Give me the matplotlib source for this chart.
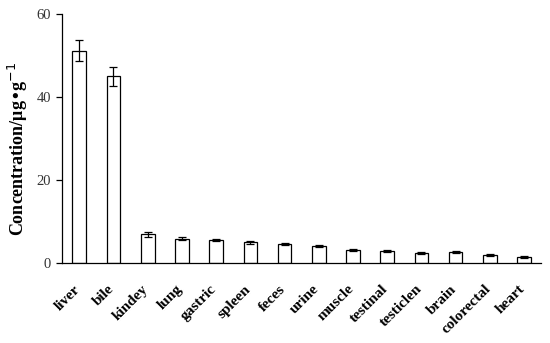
import matplotlib
matplotlib.use("Agg")
import matplotlib.pyplot as plt
import matplotlib.transforms as mtransforms
import numpy as np

categories = ["liver", "bile", "kindey", "lung", "gastric", "spleen", "feces",
              "urine", "muscle", "testinal", "testiclen", "brain", "colorectal", "heart"]
values = [51.2, 45.0, 6.9, 5.9, 5.5, 5.0, 4.6, 4.1, 3.1, 2.9, 2.4, 2.65, 1.9, 1.4]
errors = [2.5, 2.3, 0.5, 0.3, 0.3, 0.3, 0.3, 0.3, 0.2, 0.2, 0.2, 0.2, 0.2, 0.2]

fig = plt.figure(figsize=(5.5, 3.43), dpi=100)
ax = fig.add_axes([0.113, 0.233, 0.871, 0.726])
x = np.arange(len(categories))
ax.bar(x, values, width=0.4, color="white", edgecolor="black", linewidth=0.9,
       yerr=errors, capsize=3, error_kw=dict(elinewidth=0.9, capthick=0.9, ecolor="black"))
ax.set_xlim(-0.5, len(categories) - 0.5)
ax.set_ylim(0, 60)
ax.set_yticks([0, 20, 40, 60])
ax.set_yticklabels(["0", "20", "40", "60"], fontfamily="Liberation Serif", fontsize=10.5, color="#333333")
ax.set_xticks(x)
ax.set_xticklabels(categories, rotation=45, ha="right", rotation_mode="anchor",
                   fontfamily="Liberation Serif", fontweight="bold", fontsize=11)
ax.tick_params(axis="x", length=0, pad=14)
offset = mtransforms.ScaledTranslation(-6 / 100, 0, fig.dpi_scale_trans)
for lab in ax.get_xticklabels():
    lab.set_transform(lab.get_transform() + offset)
ax.tick_params(axis="y", direction="out", length=4, width=0.9, pad=4)
for s in ["top", "right"]:
    ax.spines[s].set_visible(False)
for s in ["left", "bottom"]:
    ax.spines[s].set_linewidth(0.9)
ax.set_ylabel("Concentration/μg•g$^{\\mathrm{-1}}$", fontfamily="Liberation Serif",
              fontweight="bold", fontsize=13)
ax.yaxis.set_label_coords(-0.068, 0.46)
fig.savefig("out.png", dpi=100)
